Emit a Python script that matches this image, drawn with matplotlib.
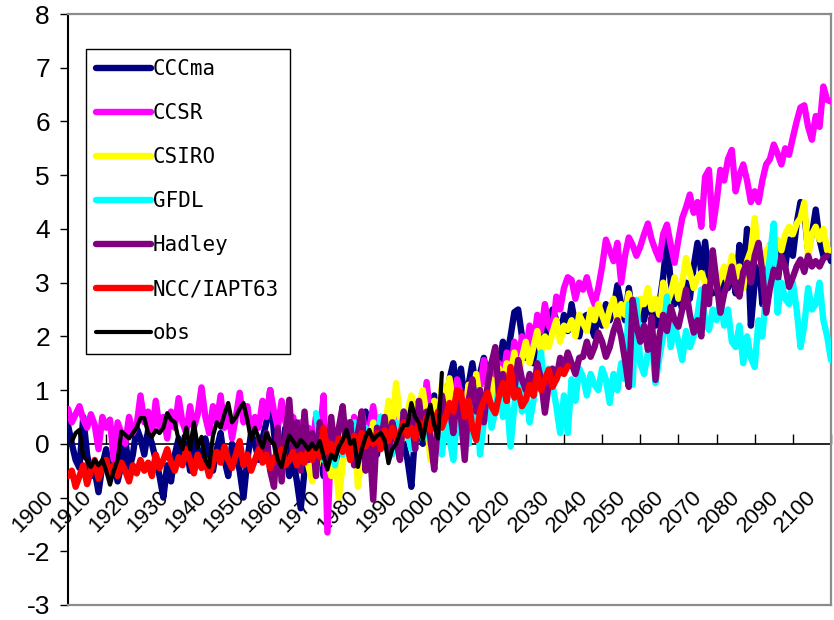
import matplotlib
matplotlib.use("Agg")
import matplotlib.pyplot as plt
import matplotlib.transforms as mtransforms
from matplotlib.lines import Line2D

# ---- data (annual anomalies) ----
cccma_start = 1900
cccma = [
    0.35, 0.0, -0.3, -0.45, 0.5, -0.2, -0.6, -0.5, -0.9, -0.4,
    -0.1, -0.55, -0.3, -0.7, -0.4, 0.1, -0.5, -0.2, 0.3, 0.1,
    -0.2, 0.25, 0.0, -0.3, -0.6, -1.0, -0.4, -0.7, -0.2, 0.1,
    -0.3, 0.0, -0.5, 0.2, -0.1, -0.4, 0.1, -0.2, -0.5, -0.1,
    0.2, -0.3, -0.6, 0.0, -0.2, -0.5, -1.0, -0.3, 0.2, 0.0,
    -0.3, 0.1, 0.4, 1.0, 0.2, -0.4, -0.2, 0.3, -0.6, -0.3,
    -0.7, -1.2, -0.5, -0.2, 0.1, -0.4, 0.0, -0.6, -0.3, 0.2,
    -0.4, 0.0, 0.3, -0.2, 0.4, 0.1, -0.3, 0.2, 0.6, 0.0,
    0.3, -0.2, 0.5, 0.1, 0.6, 0.2, -0.1, 0.4, 0.0, -0.3,
    -0.8, 0.2, 0.5, 0.0, 0.7, 0.3, 0.9, 0.4, 1.0, 0.6,
    1.2, 1.5, 0.9, 1.4, 0.8, 1.1, 1.5, 1.0, 1.3, 1.6,
    1.2, 1.5, 1.7, 1.4, 1.9, 1.6, 2.0, 2.45, 2.5, 2.0,
    1.6, 1.9, 1.5, 2.1, 1.8, 2.2, 1.9, 2.5, 2.3, 2.0,
    2.4, 2.1, 2.6, 2.2, 2.0, 2.35, 2.4, 2.2, 2.0, 2.5,
    2.2, 2.6, 2.3, 2.5, 2.95, 2.6, 2.3, 2.9, 2.4, 2.1,
    2.5, 2.3, 2.7, 2.4, 2.2, 2.6, 3.1, 3.8, 3.0, 2.6,
    2.8, 2.5, 3.0, 2.7, 3.3, 3.74, 3.2, 3.76, 3.1, 2.8,
    3.1, 2.7, 3.0, 2.9, 3.3, 2.8, 3.7, 3.1, 4.0, 2.2,
    3.0, 3.5, 2.6, 3.2, 3.7, 3.4, 3.0, 3.6, 3.3, 3.8,
    3.5, 4.1, 4.5, 4.3, 3.6, 3.9, 4.36, 3.8, 3.5, 3.6,
    3.4,
]

ccsr_start = 1900
ccsr = [
    0.65, 0.4, 0.55, 0.7, 0.45, 0.3, 0.55, 0.35, -0.1, 0.5,
    0.3, 0.45, -0.3, 0.4, 0.2, 0.0, 0.5, 0.2, 0.35, 0.9,
    0.4, 0.6, 0.2, 0.8, 0.3, 0.5, 0.1, 0.6, 0.3, 0.85,
    0.4, 0.2, 0.7, 0.3, 0.55, 1.05, 0.5, 0.2, 0.7, 0.4,
    0.9, 0.3, 0.6, 0.1, 0.5, 0.95, 0.4, 0.7, 0.2, 0.5,
    0.3, 0.8, 0.5, 1.0, 0.6, 0.3, 0.8, 0.4, 0.2, 0.5,
    0.1, 0.4, -0.2, 0.3, 0.0, 0.5, 0.2, 0.9, -1.65, 0.2,
    -0.3, 0.3, 0.0, 0.4, -0.2, 0.5, 0.1, 0.6, 0.2, 0.3,
    0.7, 0.2, 0.5, 0.0, 0.6, 0.3, 0.9, 0.4, 0.2, 0.5,
    0.3, 0.6, 0.8, 0.4, 1.15, 0.5, 0.8, 0.3, 0.9, 0.6,
    1.0, 0.7, 1.2, 0.9, 0.6, 1.1, 0.8, 1.3, 1.0, 1.56,
    1.1, 1.4, 0.9, 1.5, 1.2, 1.7, 1.3, 1.9, 1.5, 2.0,
    1.7, 2.2, 1.8, 2.4, 2.1, 2.6, 2.2, 2.07, 2.74, 2.5,
    2.9, 3.1, 3.05, 2.7, 3.0, 2.87, 3.1, 2.8, 2.6, 2.9,
    3.3, 3.8, 3.6, 3.4, 3.74, 3.0, 3.5, 3.84, 3.7, 3.5,
    3.67, 3.9, 4.1, 3.8, 3.6, 3.43, 3.9, 4.08, 3.7, 3.37,
    3.8, 4.2, 4.4, 4.64, 4.3, 4.5, 4.04, 4.97, 5.1, 4.02,
    4.5, 5.1, 4.9, 5.3, 5.47, 4.7, 5.0, 5.2, 4.9, 4.5,
    4.7, 4.5, 4.9, 5.2, 5.3, 5.57, 5.4, 5.2, 5.5, 5.38,
    5.7, 6.0, 6.26, 6.3, 5.9, 5.66, 6.1, 5.9, 6.65, 6.4,
    6.37,
]

csiro_start = 1963
csiro = [
    -0.4, -0.7, -0.5, -0.2, 0.1, -0.3, -0.6,
    -0.2, -1.0, -0.4, 0.1, -0.3, 0.3, -0.8, -0.2, 0.2, 0.0,
    0.4, -0.1, 0.5, 0.2, 0.8, 0.3, 1.13, 0.5, 0.1, 0.6,
    0.9, 0.4, 0.7, 1.0, 0.5, -0.3, 0.8, 0.4, 1.1, 0.6,
    1.22, 0.7, 0.3, 0.9, 0.5, 1.1, 0.7, 1.3, 0.8, 1.0,
    0.6, 1.2, 0.9, 1.4, 1.1, 1.5, 1.3, 1.7, 1.2, 1.6,
    1.9, 1.5, 1.8, 2.1, 1.7, 2.0, 1.8, 2.07, 2.3, 1.9,
    2.2, 2.12, 2.3, 2.0, 2.4, 2.25, 2.1, 2.5, 2.3, 2.6,
    2.4, 2.2, 2.5, 2.7, 2.3, 2.6, 2.4, 2.8, 2.5, 2.3,
    2.7, 2.6, 2.9, 2.5, 2.7, 2.4, 3.0, 2.6, 2.8, 3.1,
    2.7, 3.0, 3.46, 3.2, 2.9, 3.1, 3.18, 3.0, 2.87, 3.2,
    2.9, 3.1, 3.3, 3.0, 3.5, 3.1, 3.3, 2.9, 3.4, 3.6,
    4.2, 3.43, 3.3, 3.58, 3.7, 3.5, 3.8, 3.6, 3.9, 4.04,
    3.9, 4.1, 4.2, 4.49, 3.48, 3.9, 4.04, 3.8, 4.0, 3.6,
    3.6,
]

gfdl_start = 1965
gfdl = [
    0.57, 0.1, -0.3, 0.2, -0.1,
    -0.4, 0.3, -0.2, 0.1, -0.3, 0.4, 0.0, -0.2, 0.3, 0.1,
    -0.3, 0.2, 0.5, 0.0, 0.3, -0.2, 0.4, 0.1, 0.6, 0.2,
    -0.1, 0.3, 0.6, 0.1, 0.4, 0.0, 0.5, 0.2, -0.2, 0.4,
    0.1, -0.3, 0.5, 0.2, 0.8, 0.0, 0.6, 1.0, -0.2, 0.4,
    0.9, 0.3, 0.6, 1.1, 0.5, 0.9, -0.05, 0.7, 1.2, 0.6,
    1.0, 0.4, 0.8, 1.3, 1.7, 0.9, 1.4, 1.1, 0.7, 0.2,
    0.9, 0.2, 1.2, 0.8, 1.4, 1.25, 0.9, 1.3, 1.1, 1.0,
    1.4, 1.2, 0.76, 1.3, 1.0, 1.5, 1.2, 2.6, 1.1, 2.68,
    1.5, 1.3, 1.7, 1.9, 1.13, 1.6, 2.0, 2.74, 1.8, 2.2,
    1.9, 1.56, 2.1, 1.8, 2.0, 2.4, 2.87, 2.3, 2.12, 2.5,
    2.3, 2.68, 2.2, 2.5, 1.9, 1.8, 2.2, 1.5, 2.0, 1.6,
    1.43, 2.3, 2.0, 2.8, 3.5, 4.1, 2.44, 3.0, 2.7, 2.6,
    3.0, 2.5, 1.8, 2.2, 2.9, 2.5, 2.6, 3.0, 2.3, 2.0,
    1.56,
]

hadley_start = 1950
hadley = [
    0.07, -0.3, 0.2, -0.5, -0.8, 0.3, -0.7, 0.1, 0.82, -0.2,
    0.4, -0.5, 0.6, -0.3, 0.2, -0.6, 0.4, 0.0, -0.3, 0.5,
    -0.2, 0.3, 0.7, -0.1, 0.4, -0.4, 0.2, 0.6, -0.5, 0.1,
    -1.04, 0.3, 0.0, 0.5, -0.2, 0.4, 0.1, -0.3, 0.6, 0.2,
    0.5, -0.1, 0.8, 0.3, 0.6, 0.1, -0.48, 0.4, 0.9, 0.5,
    0.7, 0.2, 1.0, 0.5, -0.3, 0.8, 1.2, 0.6, 1.0, 0.4,
    1.1, 1.5, 1.8, 0.9, 1.3, 0.8, 1.4, 1.0, 1.56, 1.2,
    1.0, 1.3, 0.9, 1.5, 1.2, 0.58, 1.1, 1.4, 1.2, 1.6,
    1.4, 1.7, 1.5, 1.3, 1.6, 1.62, 1.9, 1.62, 1.8, 2.07,
    1.9, 1.62, 1.8, 2.1, 2.3, 2.0, 1.56, 1.06, 2.68, 2.2,
    1.9, 2.2, 1.75, 2.36, 1.19, 2.0, 2.4, 2.1, 2.55, 2.3,
    2.18, 2.5, 2.87, 2.4, 2.07, 2.3, 2.0, 2.92, 2.6, 3.6,
    3.0, 2.44, 2.8, 3.0, 3.3, 2.9, 2.74, 3.2, 3.37, 3.0,
    3.5, 3.74, 3.2, 2.44, 2.9, 3.24, 3.1, 3.48, 3.3, 2.92,
    3.1, 3.3, 3.43, 3.2, 3.5, 3.3, 3.4, 3.3, 3.45, 3.5,
]

ncc_start = 1900
ncc = [
    -0.6, -0.5, -0.8, -0.6, -0.4, -0.75, -0.5, -0.3, -0.65, -0.45,
    -0.3, -0.55, -0.4, -0.6, -0.35, -0.5, -0.7, -0.4, -0.55, -0.3,
    -0.5, -0.35, -0.6, -0.2, -0.45, -0.3, -0.1, -0.35, -0.5, -0.25,
    -0.4, -0.1, -0.3, -0.55, -0.2, -0.45, -0.3, -0.6, -0.35, -0.15,
    -0.35, -0.05, -0.3, -0.45, -0.2, 0.05, -0.4, -0.2, -0.5, -0.3,
    -0.1, -0.35, -0.2, -0.45, -0.25, -0.3, -0.1, -0.4, -0.3, -0.15,
    -0.4, -0.2, -0.35, -0.1, -0.3, -0.05, -0.25, 0.3, -0.15, 0.0,
    -0.2, 0.1, -0.15, 0.05, -0.3, 0.15, -0.1, 0.2, -0.05, 0.1,
    0.0, 0.2, -0.1, 0.25, 0.05, 0.3, 0.1, 0.2, 0.4, 0.15,
    0.3, 0.1, 0.4, 0.2, 0.5, 0.25, 0.4, 0.6, 0.3, 0.5,
    0.76, 0.6, 1.0, 0.95, 0.5, 0.8, 0.3, 0.07, 0.6, 0.8,
    0.95, 0.7, 0.57, 0.9, 1.13, 0.8, 1.43, 0.86, 1.0, 0.7,
    0.82, 1.1, 0.9, 1.32, 1.0, 1.2, 1.38, 1.06, 1.2, 1.38,
    1.3, 1.45,
]

obs_start = 1901
obs = [
    0.04, 0.2, 0.26, -0.24, -0.3, -0.43, -0.3, -0.4, -0.3, -0.5,
    -0.76, -0.5, -0.3, 0.23, 0.17, 0.1, 0.2, 0.3, 0.48, 0.48,
    0.2, 0.13, 0.25, 0.2, 0.3, 0.57, 0.45, 0.4, 0.07, -0.1,
    0.3, -0.1, 0.4, -0.07, 0.13, -0.3, -0.43, 0.15, 0.4, 0.3,
    0.55, 0.76, 0.4, 0.5, 0.65, 0.76, 0.45, 0.07, 0.3, 0.1,
    -0.07, 0.2, 0.07, 0.0, -0.3, -0.43, -0.1, 0.15, 0.05, -0.05,
    0.07, 0.0, -0.11, 0.0, -0.1, 0.05, -0.24, -0.48, -0.2, -0.3,
    -0.05, 0.07, 0.26, 0.0, 0.07, -0.43, -0.1, 0.13, 0.26, 0.07,
    0.15, 0.2, 0.07, -0.36, -0.1, 0.0, 0.2, 0.35, 0.35, 0.76,
    0.5, 0.39, 0.07, 0.45, 0.73, 0.35, 0.1, 1.32,
]

series_names = ["CCCma", "CCSR", "CSIRO", "GFDL", "Hadley", "NCC/IAPT63", "obs"]
series_data = [cccma, ccsr, csiro, gfdl, hadley, ncc, obs]
series_start = [cccma_start, ccsr_start, csiro_start, gfdl_start,
                hadley_start, ncc_start, obs_start]
series_colors = ["#000080", "#FF00FF", "#FFFF00", "#00FFFF",
                 "#800080", "#FF0000", "#000000"]
series_widths = [4.6, 4.6, 4.6, 4.6, 4.6, 4.6, 3.0]

x_ticks = list(range(1900, 2101, 10))
x_tick_labels = [str(y) for y in x_ticks]
y_ticks = list(range(-3, 9))
y_tick_labels = ["-3", "-2", "", "0", "1", "2", "3", "4", "5", "6", "7", "8"]

# ---- figure ----
fig = plt.figure(figsize=(8.34, 6.2), dpi=100)
ax = fig.add_axes([68 / 834, 1 - 605 / 620, 763 / 834, 591 / 620])

# fix every spine position up front so the tick objects are not rebuilt later
frame_grey = "#8c8c8c"
for side in ("top", "right", "left"):
    ax.spines[side].set_position(("outward", 0))
ax.spines["bottom"].set_position(("data", 0))
for side in ("top", "right"):
    ax.spines[side].set_color(frame_grey)
    ax.spines[side].set_linewidth(1.6)
ax.spines["left"].set_color("black")
ax.spines["left"].set_linewidth(1.5)
ax.spines["bottom"].set_color("black")
ax.spines["bottom"].set_linewidth(1.2)
ax.spines["bottom"].set_zorder(1)
ax.add_line(Line2D([0, 1], [0, 0], transform=ax.transAxes, color=frame_grey,
                   lw=1.6, clip_on=False, zorder=4))

for name, vals, start, col, lw in zip(series_names, series_data, series_start,
                                      series_colors, series_widths):
    years = list(range(start, start + len(vals)))
    ax.plot(years, vals, color=col, lw=lw, label=name,
            solid_joinstyle="round", solid_capstyle="round", zorder=3)

ax.set_xlim(1900, 2100)
ax.set_ylim(-3, 8)

ax.set_yticks(y_ticks)
ax.tick_params(axis="y", direction="out", length=6, width=1.0, pad=7)
ax.set_yticklabels(y_tick_labels, fontfamily="Liberation Sans", fontsize=19)

ax.set_xticks(x_ticks)
ax.tick_params(axis="x", direction="in", length=7, width=1.0, pad=31,
               labelrotation=45)
ax.set_xticklabels(x_tick_labels, fontfamily="Liberation Sans", fontsize=16,
                   ha="right", va="top")

leg = ax.legend(loc="upper left", bbox_to_anchor=(0.0236, 0.9408),
                borderaxespad=0, frameon=True, fancybox=False, framealpha=1,
                edgecolor="black", prop={"family": "DejaVu Sans Mono", "size": 15},
                handlelength=2.6, handletextpad=0.12, labelspacing=1.15,
                borderpad=0.5)
leg.get_frame().set_linewidth(1.0)
for h in leg.get_lines():
    h.set_solid_capstyle("round")

# nudge the slanted year labels left of their ticks
fig.canvas.draw()
shift = mtransforms.ScaledTranslation(-0.10, 0, fig.dpi_scale_trans)
for tick in ax.xaxis.get_major_ticks():
    tick.label1.set_transform(tick.label1.get_transform() + shift)

fig.savefig("out.png", dpi=100)
